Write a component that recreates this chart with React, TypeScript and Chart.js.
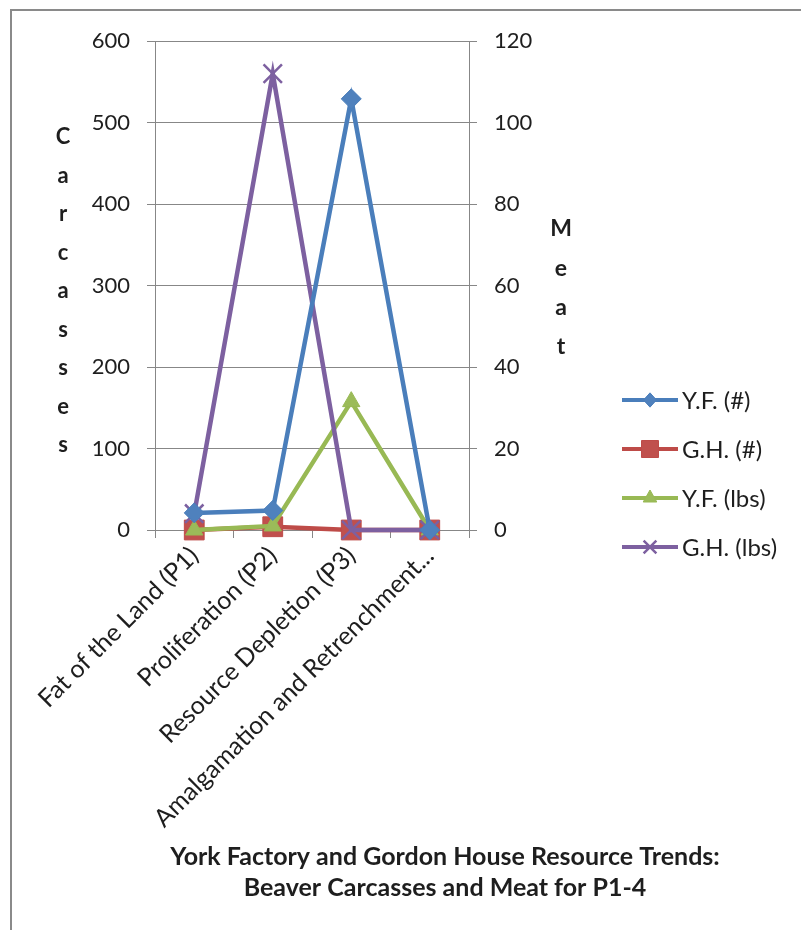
import React, { useEffect, useRef } from "react";
import { Chart, registerables } from "chart.js";

Chart.register(...registerables);

// ---------- data ----------
const categories = [
  "Fat of the Land (P1)",
  "Proliferation (P2)",
  "Resource Depletion (P3)",
  "Amalgamation and Retrenchment...",
];
const seriesNames = ["Y.F. (#)", "G.H. (#)", "Y.F. (lbs)", "G.H. (lbs)"];
const yfCarcasses = [21, 24, 529, 0];
const ghCarcasses = [0, 4, 0, 0];
const yfMeat = [0, 1, 31.5, 0];
const ghMeat = [4, 112, 0, 0];
const carcassTicks = [0, 100, 200, 300, 400, 500, 600];
const meatTicks = [0, 20, 40, 60, 80, 100, 120];
const leftAxisTitle = "Carcasses";
const rightAxisTitle = "Meat";
const titleLines = [
  "York Factory and Gordon House Resource Trends:",
  "Beaver Carcasses and Meat for P1-4",
];

// ---------- styles ----------
const FONT = "Lato";
const TEXT = "#1e1e1e";
const GRID = "#878787";
const seriesStyles = [
  { line: "#4A7EBB", fill: "#4F81BD", point: "rectRot", r: 10, lr: 6.5 },
  { line: "#BE4B48", fill: "#C0504D", point: "rect", r: 14, lr: 8.5 },
  { line: "#98B954", fill: "#9BBB59", point: "triangle", r: 10, lr: 8 },
  { line: "#7D60A0", fill: "#8064A2", point: "crossRot", r: 13, lr: 9 },
];

function drawMarker(
  ctx: CanvasRenderingContext2D,
  style: string,
  x: number,
  y: number,
  r: number,
  fill: string,
  stroke: string
) {
  ctx.save();
  ctx.fillStyle = fill;
  ctx.strokeStyle = stroke;
  ctx.lineWidth = 1;
  ctx.beginPath();
  if (style === "rectRot") {
    ctx.moveTo(x - r, y);
    ctx.lineTo(x, y - r * 1.1);
    ctx.lineTo(x + r, y);
    ctx.lineTo(x, y + r * 1.1);
    ctx.closePath();
    ctx.fill();
    ctx.stroke();
  } else if (style === "rect") {
    ctx.rect(x - r, y - r, 2 * r, 2 * r);
    ctx.fill();
    ctx.stroke();
  } else if (style === "triangle") {
    ctx.moveTo(x, y - r);
    ctx.lineTo(x + r * 0.85, y + r * 0.5);
    ctx.lineTo(x - r * 0.85, y + r * 0.5);
    ctx.closePath();
    ctx.fill();
    ctx.stroke();
  } else if (style === "crossRot") {
    const d = r * 0.707;
    ctx.lineWidth = 2.5;
    ctx.moveTo(x - d, y - d);
    ctx.lineTo(x + d, y + d);
    ctx.moveTo(x + d, y - d);
    ctx.lineTo(x - d, y + d);
    ctx.stroke();
  }
  ctx.restore();
}

const decorPlugin = {
  id: "decor",
  afterDraw(chart: any) {
    const ctx: CanvasRenderingContext2D = chart.ctx;
    ctx.save();
    // outer frame
    ctx.strokeStyle = "#8a8a8a";
    ctx.lineWidth = 2;
    ctx.beginPath();
    ctx.moveTo(11, 930);
    ctx.lineTo(11, 10);
    ctx.lineTo(801, 10);
    ctx.stroke();

    // stacked axis titles
    ctx.fillStyle = TEXT;
    ctx.textAlign = "center";
    ctx.textBaseline = "middle";
    ctx.font = `bold 22px ${FONT}`;
    leftAxisTitle.split("").forEach((ch, i) => {
      ctx.fillText(ch, 63, 137 + i * 38.5);
    });
    ctx.font = `bold 23px ${FONT}`;
    rightAxisTitle.split("").forEach((ch, i) => {
      ctx.fillText(ch, 561, 229 + i * 39.3);
    });

    // legend
    ctx.font = `24px ${FONT}`;
    ctx.textAlign = "left";
    seriesNames.forEach((name, i) => {
      const st = seriesStyles[i];
      const y = 400 + i * 49;
      ctx.strokeStyle = st.line;
      ctx.lineWidth = 4;
      ctx.beginPath();
      ctx.moveTo(622, y);
      ctx.lineTo(678, y);
      ctx.stroke();
      drawMarker(ctx, st.point, 650, y, st.lr, st.fill, st.line);
      ctx.fillStyle = TEXT;
      ctx.fillText(name, 682, y + 1);
    });

    // bottom title
    ctx.font = `bold 25px ${FONT}`;
    ctx.textAlign = "center";
    ctx.fillStyle = TEXT;
    titleLines.forEach((t, i) => {
      ctx.fillText(t, 445, 857 + i * 31);
    });
    ctx.restore();
  },
};

export default function App() {
  const ref = useRef<HTMLCanvasElement | null>(null);

  useEffect(() => {
    if (!ref.current) return;
    const mk = (
      i: number,
      data: number[],
      axis: string,
      order: number
    ) => {
      const st = seriesStyles[i];
      return {
        label: seriesNames[i],
        data,
        yAxisID: axis,
        borderColor: st.line,
        backgroundColor: st.fill,
        borderWidth: 4.5,
        pointStyle: st.point,
        pointRadius: st.r,
        pointBackgroundColor: st.fill,
        pointBorderColor: st.line,
        pointBorderWidth: st.point === "crossRot" ? 2.5 : 1,
        tension: 0,
        clip: false,
        order,
      };
    };

    const chart = new Chart(ref.current, {
      type: "line",
      data: {
        labels: categories,
        datasets: [
          mk(0, yfCarcasses, "y", 0),
          mk(1, ghCarcasses, "y", 3),
          mk(2, yfMeat, "y1", 2),
          mk(3, ghMeat, "y1", 1),
        ] as any,
      },
      options: {
        responsive: false,
        animation: false,
        events: [],
        layout: { padding: { left: 10, top: 41, right: 232, bottom: 100 } },
        plugins: {
          legend: { display: false },
          title: { display: false },
          tooltip: { enabled: false },
        },
        scales: {
          x: {
            offset: true,
            grid: {
              display: true,
              drawOnChartArea: false,
              drawTicks: true,
              tickLength: 8,
              offset: true,
              color: GRID,
            },
            border: { display: true, color: GRID },
            ticks: {
              autoSkip: false,
              minRotation: 45,
              maxRotation: 45,
              color: TEXT,
              padding: 3,
              font: { family: FONT, size: 25 },
            },
            afterFit(scale: any) {
              scale.height = 300;
            },
          },
          y: {
            position: "left",
            min: carcassTicks[0],
            max: carcassTicks[carcassTicks.length - 1],
            grid: { color: GRID, tickLength: 8, drawTicks: true },
            border: { display: true, color: GRID },
            ticks: {
              stepSize: carcassTicks[1] - carcassTicks[0],
              color: TEXT,
              padding: 17,
              font: { family: FONT, size: 22 },
            },
            afterFit(scale: any) {
              scale.width = 145;
            },
          },
          y1: {
            position: "right",
            min: meatTicks[0],
            max: meatTicks[meatTicks.length - 1],
            grid: {
              color: GRID,
              drawOnChartArea: false,
              tickLength: 8,
              drawTicks: true,
            },
            border: { display: true, color: GRID },
            ticks: {
              stepSize: meatTicks[1] - meatTicks[0],
              color: TEXT,
              padding: 17,
              font: { family: FONT, size: 22 },
            },
            afterFit(scale: any) {
              scale.width = 100;
            },
          },
        },
      },
      plugins: [decorPlugin],
    });
    return () => chart.destroy();
  }, []);

  return (
    <div
      style={{
        position: "absolute",
        left: 0,
        top: 0,
        width: 801,
        height: 930,
        background: "#fff",
      }}
    >
      <canvas ref={ref} width={801} height={930} style={{ display: "block" }} />
    </div>
  );
}
